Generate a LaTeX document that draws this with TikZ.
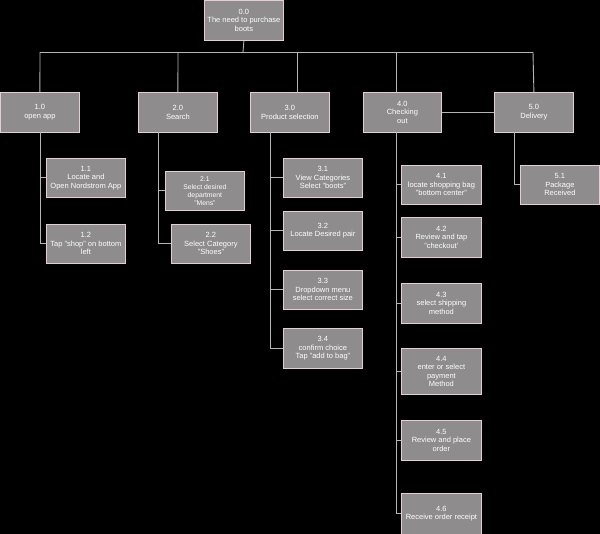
\documentclass[tikz,border=0pt]{standalone}
\usepackage{fontspec}
\setmainfont{Liberation Sans}
\begin{document}
\begin{tikzpicture}[x=1pt,y=-1pt,
 bx/.style={draw=boxborder,fill=boxfill,text=white,line width=0.8pt,inner sep=1pt,align=center,font=\fontsize{7.5}{8.5}\selectfont,anchor=north west},
 ln/.style={draw=lineclr,line width=0.9pt}]
\definecolor{boxfill}{HTML}{8E8C8D}
\definecolor{boxborder}{HTML}{E6CCD6}
\definecolor{lineclr}{HTML}{B8B4B6}
\fill[black] (0,0) rectangle (600,534);
\useasboundingbox (0,0) rectangle (600,534);
\newcommand{\bxn}[6]{\node[bx,minimum width=#3pt,minimum height=#4pt] (#1) at (#2) {#6};}
% top
\node[bx,minimum width=79pt,minimum height=40pt] (n0) at (204,0) {0.0\\The need to purchase\\boots};
\node[bx,minimum width=79pt,minimum height=40pt] (n1) at (0,92) {1.0\\open app};
\node[bx,minimum width=79pt,minimum height=40pt] (n2) at (138,92) {2.0\\Search};
\node[bx,minimum width=79pt,minimum height=40pt] (n3) at (250,92) {3.0\\Product selection};
\node[bx,minimum width=78pt,minimum height=40pt] (n4) at (363,92) {4.0\\Checking\\out};
\node[bx,minimum width=79pt,minimum height=40pt] (n5) at (494,92) {5.0\\Delivery};
% children
\node[bx,minimum width=79pt,minimum height=39pt] (n11) at (46,158) {1.1\\Locate and\\Open Nordstrom App};
\node[bx,minimum width=79pt,minimum height=39pt] (n12) at (46,224) {1.2\\Tap "shop" on bottom\\left};
\node[bx,minimum width=79pt,minimum height=39pt,font=\fontsize{6.8}{8}\selectfont] (n21) at (165,171) {2.1\\Select desired\\department\\"Mens"};
\node[bx,minimum width=79pt,minimum height=39pt] (n22) at (171,224) {2.2\\Select Category\\"Shoes"};
\node[bx,minimum width=79pt,minimum height=39pt] (n31) at (283,158) {3.1\\View Categories\\Select "boots"};
\node[bx,minimum width=79pt,minimum height=39pt] (n32) at (283,211) {3.2\\Locate Desired pair};
\node[bx,minimum width=79pt,minimum height=39pt] (n33) at (283,270) {3.3\\Dropdown menu\\select correct size};
\node[bx,minimum width=79pt,minimum height=40pt] (n34) at (283,328) {3.4\\confirm choice\\Tap "add to bag"};
\node[bx,minimum width=80pt,minimum height=39pt] (n41) at (401,165) {4.1\\locate shopping bag\\"bottom center"};
\node[bx,minimum width=80pt,minimum height=40pt] (n42) at (401,217) {4.2\\Review and tap\\"checkout'};
\node[bx,minimum width=80pt,minimum height=40pt] (n43) at (401,283) {4.3\\select shipping\\method};
\node[bx,minimum width=80pt,minimum height=46pt] (n44) at (401,348) {4.4\\enter or select\\payment\\Method};
\node[bx,minimum width=80pt,minimum height=40pt] (n45) at (401,420) {4.5\\Review and place\\order};
\node[bx,minimum width=80pt,minimum height=41pt] (n46) at (401,493) {4.6\\Receive order receipt};
\node[bx,minimum width=79pt,minimum height=39pt] (n51) at (520,165) {5.1\\Package\\Received};
% connectors
\coordinate (bus) at (243,52);
\draw[ln] (n0.south) -- (bus);
\draw[ln] (40,52) -- (533,52);
\draw[ln] (40,52) -- (n1.north);
\draw[ln] (178,52) -- (n2.north);
\draw[ln] (297,52) -- (297,92);
\draw[ln] (396,52) -- (396,92);
\draw[ln] (533,52) -- (n5.north);
\draw[ln] (n4.east) -- (n5.west);
\draw[ln] (40,132) |- (n11.west);
\draw[ln] (40,132) |- (n12.west);
\draw[ln] (158,132) |- (n21.west);
\draw[ln] (158,132) |- (n22.west);
\draw[ln] (270,132) |- (n31.west);
\draw[ln] (270,132) |- (n32.west);
\draw[ln] (270,132) |- (n33.west);
\draw[ln] (270,132) |- (n34.west);
\draw[ln] (396,132) |- (n41.west);
\draw[ln] (396,132) |- (n42.west);
\draw[ln] (396,132) |- (n43.west);
\draw[ln] (396,132) |- (n44.west);
\draw[ln] (396,132) |- (n45.west);
\draw[ln] (396,132) |- (n46.west);
\draw[ln] (514,132) |- (n51.west);
\end{tikzpicture}
\end{document}
